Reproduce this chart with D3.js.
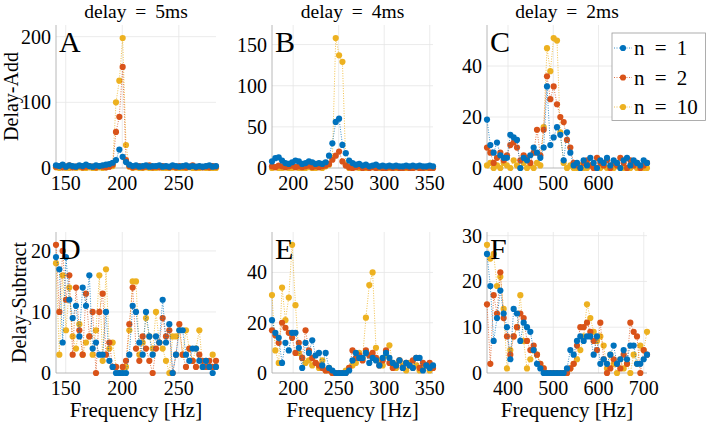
<!DOCTYPE html>
<html>
<head>
<meta charset="utf-8">
<script src="https://cdn.jsdelivr.net/npm/d3@7"></script>
<style>
  body { margin: 0; background: #fff; }
  svg { display: block; }
  svg text { font-family: "Liberation Serif", "DejaVu Serif", "Times New Roman", serif; fill: #000; }
</style>
</head>
<body>
<svg id="chart" width="706" height="424"></svg>
<script>
// samples per curve, spread evenly over [f0/sqrt2, f0*sqrt2]
const nPoints = 49;
const serif = "'Liberation Serif', 'DejaVu Serif', serif";

const delays = ["delay = 5ms", "delay = 4ms", "delay = 2ms"];
const centerFreqs = [200, 250, 500];
const rowLabels = ["Delay-Add", "Delay-Subtract"];
const seriesNames = ["n = 1", "n = 2", "n = 10"];
const colors = ["#0072BD", "#D95319", "#EDB120"];

// Delay-Add
const aN1 = [4,3,5,2,4,3,2,4,3,5,3,2,4,3,4,5,6,8,12,28,17,9,5,3,4,2,3,4,2,3,3,4,2,3,2,4,3,2,3,4,2,3,2,3,2,3,4,2,3];
const aN2 = [2,3,1,2,4,1,2,3,1,2,3,2,1,3,2,1,2,5,55,78,154,12,3,1,2,3,1,2,4,1,2,1,3,2,1,2,1,3,2,1,2,4,1,2,1,2,1,3,2];
const aN10 = [1,0,1,0,0,1,0,1,0,0,1,0,0,1,0,1,2,3,100,133,198,35,2,0,1,0,0,1,0,0,0,1,0,0,0,1,0,0,0,0,1,0,0,0,1,0,0,0,0];

const bN1 = [8,12,13,9,6,5,7,9,8,5,6,8,7,5,6,5,7,15,30,56,60,28,18,9,6,4,5,3,4,2,3,4,2,3,2,3,2,3,2,2,3,2,3,2,3,2,2,3,2];
const bN2 = [2,1,3,2,1,2,3,1,2,1,2,3,1,2,1,2,3,5,10,15,20,8,3,1,0,1,2,0,1,0,1,0,1,0,0,1,0,1,0,0,1,0,0,1,0,0,1,0,0];
const bN10 = [0,1,0,0,1,0,0,1,0,0,0,1,0,0,1,0,2,4,12,158,137,129,4,0,0,1,0,0,0,0,1,0,0,0,0,0,1,0,0,0,0,0,0,1,0,0,0,0,0];

const cN1 = [19,9,6,10,5,4,4,13,12,11,0,4,3,5,8,6,4,8,32,9,12,16,13,3,14,6,1,2,0,3,1,4,2,0,3,2,4,1,3,2,0,3,4,1,3,2,1,3,2];
const cN2 = [8,6,2,4,6,3,5,9,10,8,3,5,4,2,6,15,5,15,36,27,32,25,20,18,11,8,2,1,0,2,3,1,0,4,2,1,3,0,2,1,4,2,0,3,1,2,0,1,2];
const cN10 = [1,2,0,1,0,2,1,0,3,1,0,2,0,1,0,2,1,16,47,38,51,50,14,2,0,1,0,0,1,0,0,1,0,0,0,1,0,0,0,1,0,0,0,0,1,0,0,0,0];

// Delay-Subtract
const dN1 = [19,17,5,19,12,9,11,6,14,11,16,4,5,3,3,10,2,1,0,0,0,0,3,11,10,5,3,10,6,3,6,5,12,5,8,0,3,7,7,3,2,4,4,2,1,2,1,0,1];
const dN2 = [21,10,20,12,16,3,14,7,3,13,6,10,0,10,13,3,5,1,1,0,1,2,8,14,4,2,6,4,2,0,4,5,9,6,7,0,3,8,3,1,4,2,1,3,2,1,2,1,2];
const dN10 = [18,3,16,7,14,6,4,8,3,5,6,3,7,16,2,17,4,5,1,0,0,1,7,15,15,3,5,9,6,4,10,5,4,2,0,6,6,7,3,7,4,2,4,7,1,2,1,3,1];

const eN1 = [21,16,14,4,12,9,16,16,10,2,12,8,13,7,8,3,8,2,1,0,0,0,0,1,5,8,6,6,8,4,6,5,3,6,8,6,4,3,5,2,4,3,2,6,6,1,3,2,3];
const eN2 = [17,15,12,20,18,16,14,8,12,6,17,9,6,4,3,2,1,1,0,0,0,0,0,2,9,6,7,5,9,7,8,6,3,5,9,4,2,3,5,2,4,3,5,6,2,4,3,4,2];
const eN10 = [31,9,4,34,21,30,51,27,8,6,4,5,3,4,2,5,1,2,0,0,0,0,1,2,3,4,8,6,22,35,40,10,5,3,7,11,4,2,5,3,1,4,2,3,1,2,3,1,2];

const fN1 = [26,19,7,12,18,13,10,3,14,13,7,11,10,9,5,2,1,0,0,0,0,0,0,0,1,5,4,7,8,7,8,8,4,8,2,3,2,4,6,2,3,5,3,6,6,2,2,3,4];
const fN2 = [15,2,17,13,22,12,8,4,8,10,13,12,7,5,6,4,2,1,0,0,0,0,0,0,0,1,2,6,10,10,11,9,7,5,11,3,0,1,3,2,1,4,2,11,9,8,0,5,4];
const fN10 = [28,25,26,19,21,14,1,5,8,10,17,7,1,3,5,4,2,1,0,0,0,0,0,0,0,1,2,3,5,8,15,12,9,7,8,6,1,4,2,0,3,1,2,0,4,2,6,5,9];

const xTicks = [[150,200,250],[200,250,300,350],[400,500,600],[150,200,250],[200,250,300,350],[400,500,600,700]];
const yTicks = [[0,100,200],[0,50,100,150],[0,20,40],[0,10,20],[0,20,40],[0,10,20,30]];
const letters = ["A","B","C","D","E","F"];
const panelSeries = [[aN1,aN2,aN10],[bN1,bN2,bN10],[cN1,cN2,cN10],[dN1,dN2,dN10],[eN1,eN2,eN10],[fN1,fN2,fN10]];

const colX = [[56,216],[272,433],[487,647]];
const rowY = [[25,168],[232,373]];

const svg = d3.select("#chart");

function label(sel, size) {
  return sel.attr("font-family", serif).style("font-family", serif).style("font-size", size + "px");
}

panelSeries.forEach((series, k) => {
  const col = k % 3, row = Math.floor(k / 3);
  const f0 = centerFreqs[col];
  const x = d3.scaleLinear().domain([f0 / Math.SQRT2, f0 * Math.SQRT2]).range(colX[col]);
  const ymax = 1.1 * d3.max(series.flat());
  const y = d3.scaleLinear().domain([0, ymax]).range([rowY[row][1], rowY[row][0]]);
  const freq = d3.scaleLinear().domain([0, nPoints - 1]).range(x.domain());

  const g = svg.append("g");

  // grid
  g.selectAll(".vg").data(xTicks[k]).enter().append("line")
    .attr("x1", d => x(d)).attr("x2", d => x(d))
    .attr("y1", y.range()[0]).attr("y2", y.range()[1])
    .attr("stroke", "#e6e6e6").attr("stroke-width", 0.8);
  g.selectAll(".hg").data(yTicks[k].filter(d => d > 0)).enter().append("line")
    .attr("x1", x.range()[0]).attr("x2", x.range()[1])
    .attr("y1", d => y(d)).attr("y2", d => y(d))
    .attr("stroke", "#e6e6e6").attr("stroke-width", 0.8);

  // axis lines
  g.append("line")
    .attr("x1", x.range()[0]).attr("x2", x.range()[0])
    .attr("y1", y.range()[0]).attr("y2", y.range()[1])
    .attr("stroke", "#a6a6a6").attr("stroke-width", 0.8);
  g.append("line")
    .attr("x1", x.range()[0]).attr("x2", x.range()[1])
    .attr("y1", y.range()[0]).attr("y2", y.range()[0])
    .attr("stroke", "#a6a6a6").attr("stroke-width", 0.8);

  // tick labels
  label(g.selectAll(".xt").data(xTicks[k]).enter().append("text"), 20)
    .attr("x", d => x(d)).attr("y", y.range()[0] + 22)
    .attr("text-anchor", "middle")
    .text(d => d);
  label(g.selectAll(".yt").data(yTicks[k]).enter().append("text"), 20)
    .attr("x", x.range()[0] - 5).attr("y", d => y(d) + 7)
    .attr("text-anchor", "end")
    .text(d => d);

  // curves, n = 10 first so n = 1 ends on top
  [2, 1, 0].forEach(s => {
    const vals = series[s];
    g.append("path")
      .datum(vals)
      .attr("d", d3.line().x((d, i) => x(freq(i))).y(d => y(d)))
      .attr("fill", "none")
      .attr("stroke", colors[s])
      .attr("stroke-width", 0.8)
      .attr("stroke-dasharray", "1,1.5");
    g.selectAll(null).data(vals).enter().append("circle")
      .attr("cx", (d, i) => x(freq(i)))
      .attr("cy", d => y(d))
      .attr("r", 3.1)
      .attr("fill", colors[s]);
  });

  label(g.append("text"), 30)
    .attr("x", x.range()[0] + 3).attr("y", y.range()[1] + 27)
    .text(letters[k]);

  if (row === 0) {
    label(svg.append("text"), 19.5)
      .attr("x", (colX[col][0] + colX[col][1]) / 2).attr("y", 17.5)
      .attr("text-anchor", "middle").style("word-spacing", "4px")
      .text(delays[col]);
  } else {
    label(svg.append("text"), 21)
      .attr("x", (colX[col][0] + colX[col][1]) / 2).attr("y", 417)
      .attr("text-anchor", "middle")
      .text("Frequency [Hz]");
  }
});

// row labels
[18, 26].forEach((xPos, r) => {
  const cy = (rowY[r][0] + rowY[r][1]) / 2;
  label(svg.append("text"), 20)
    .attr("transform", `translate(${xPos},${cy}) rotate(-90)`)
    .attr("text-anchor", "middle")
    .text(rowLabels[r]);
});

// legend
const legend = svg.append("g");
legend.append("rect")
  .attr("x", 612).attr("y", 33).attr("width", 93.5).attr("height", 87.5)
  .attr("fill", "#fff").attr("stroke", "#999").attr("stroke-width", 0.8);
const item = legend.selectAll(".li").data(seriesNames).enter().append("g")
  .attr("transform", (d, i) => `translate(0,${48 + i * 29.5})`);
item.append("line")
  .attr("x1", 614).attr("x2", 632).attr("y1", 0).attr("y2", 0)
  .attr("stroke", (d, i) => colors[i]).attr("stroke-width", 0.8)
  .attr("stroke-dasharray", "1,1.5");
item.append("circle")
  .attr("cx", 623).attr("cy", 0).attr("r", 3.1)
  .attr("fill", (d, i) => colors[i]);
label(item.append("text"), 21)
  .attr("x", 634).attr("y", 7)
  .style("word-spacing", "5px")
  .text(d => d);
</script>
</body>
</html>
